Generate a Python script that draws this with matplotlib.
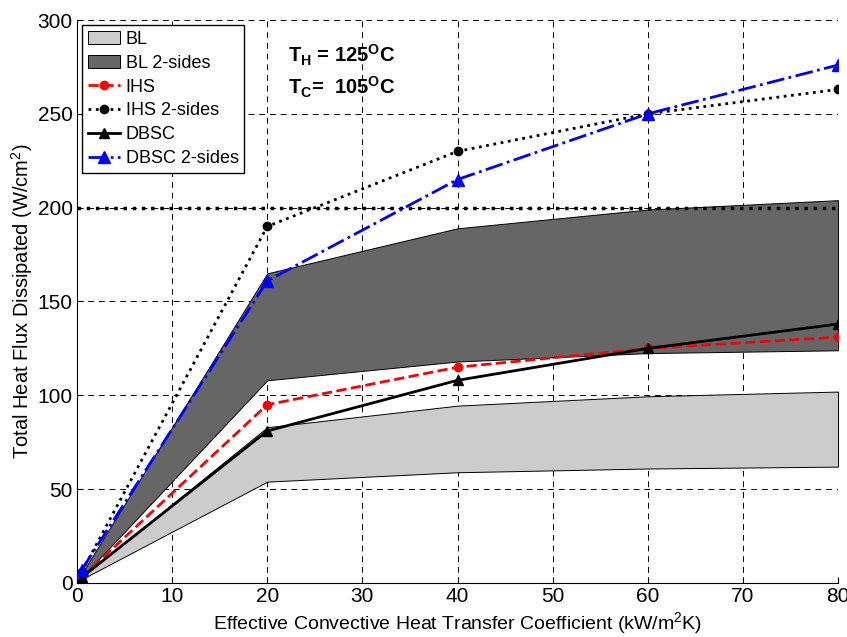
import matplotlib
matplotlib.use("Agg")
import matplotlib.pyplot as plt

plt.rcParams['font.family'] = ['Liberation Sans', 'DejaVu Sans']
plt.rcParams['mathtext.fontset'] = 'custom'
plt.rcParams['mathtext.rm'] = 'Liberation Sans'
plt.rcParams['mathtext.bf'] = 'Liberation Sans:bold'

h = [0.5, 20, 40, 60, 80]

bl_low = [2, 54, 59, 61, 62]
bl_high = [3, 83, 94.5, 99.5, 102]
bl2_low = [3, 108, 118, 122.5, 124]
bl2_high = [5, 165, 189, 199, 204]

ihs = [3, 95, 115, 125, 131]
ihs2 = [6, 190, 230, 250, 263]
dbsc = [3, 81, 108, 125, 138]
dbsc2 = [7, 161, 215, 250, 276]

limit_x = [0, 80]
limit_y = [200, 200]

fig = plt.figure(figsize=(8.47, 6.37), dpi=100)
ax = fig.add_axes([0.0909, 0.0848, 0.8985, 0.8838])

ax.fill_between(h, bl_low, bl_high, facecolor='#cccccc', edgecolor='black', lw=0.7, label='BL', zorder=2)
ax.fill_between(h, bl2_low, bl2_high, facecolor='#666666', edgecolor='black', lw=0.7, label='BL 2-sides', zorder=2)

ax.plot(h, ihs, '--', color='red', lw=2, marker='o', ms=6, mfc='red', mec='red', label='IHS', zorder=4)
ax.plot(h, ihs2, ':', color='black', lw=2, marker='o', ms=6, label='IHS 2-sides', zorder=4)
ax.plot(h, dbsc, '-', color='black', lw=2, marker='^', ms=7, label='DBSC', zorder=4)
ax.plot(h, dbsc2, '-.', color='blue', lw=2, marker='^', ms=8, label='DBSC 2-sides', zorder=4)
ax.plot(limit_x, limit_y, ':', color='black', lw=2.5, zorder=3)

ax.set_xlim(0, 80)
ax.set_ylim(0, 300)
ax.set_xticks(range(0, 81, 10))
ax.set_yticks(range(0, 301, 50))
ax.tick_params(labelsize=15, direction='in', length=4, pad=3)
ax.grid(True, color='black', ls=(0, (6, 5)), lw=0.7)
ax.set_axisbelow(True)
for s in ['top', 'right']:
    ax.spines[s].set_visible(False)

ax.set_xlabel('Effective Convective Heat Transfer Coefficient (kW/m$^2$K)', fontsize=14, labelpad=3)
ax.set_ylabel('Total Heat Flux Dissipated (W/cm$^2$)', fontsize=14.5, labelpad=2)

ax.text(22.2, 281, r'T$_\mathbf{H}$ = 125$^\mathbf{O}$C', fontsize=14.5, fontweight='bold', va='center')
ax.text(22.2, 264, r'T$_\mathbf{C}$=  105$^\mathbf{O}$C', fontsize=14.5, fontweight='bold', va='center')

leg = ax.legend(loc='upper left', fontsize=13, fancybox=False, framealpha=1, edgecolor='black',
                borderaxespad=0.3, handlelength=1.8, labelspacing=0.38, borderpad=0.3, handletextpad=0.3)
leg.get_frame().set_linewidth(1)

fig.savefig('out.png', dpi=100)
